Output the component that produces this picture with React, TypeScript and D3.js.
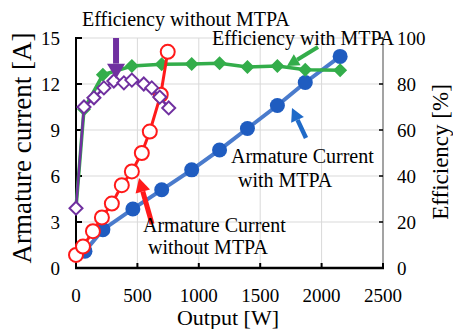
import React, { useRef, useEffect } from 'react';
import * as d3 from 'd3';

// Axis ticks
const outputTicks = [0, 500, 1000, 1500, 2000, 2500];
const currentTicks = [0, 3, 6, 9, 12, 15];
const effTicks = [0, 20, 40, 60, 80, 100];

// Armature current with MTPA [A]
const mtpaOutput = [73, 219, 463, 698, 942, 1169, 1396, 1640, 1867, 2151];
const mtpaCurrent = [1.1, 2.5, 3.85, 5.1, 6.4, 7.7, 9.1, 10.6, 12.1, 13.8];

// Efficiency with MTPA [%]
const mtpaEffOutput = [0, 65, 219, 455, 698, 942, 1169, 1396, 1640, 1867, 2151];
const mtpaEfficiency = [26, 69, 84, 87.8, 88.6, 88.7, 89, 87.4, 87.8, 86.2, 86];

// Armature current without MTPA [A]
const noMtpaOutput = [0, 57, 138, 211, 292, 373, 455, 536, 601, 690, 747];
const noMtpaCurrent = [0.85, 1.4, 2.4, 3.3, 4.2, 5.4, 6.3, 7.5, 8.9, 11.3, 14.1];

// Efficiency without MTPA [%]
const noMtpaEffOutput = [0, 65, 146, 227, 308, 390, 455, 552, 617, 682, 755];
const noMtpaEfficiency = [26, 70, 74, 78.3, 81.3, 80.5, 81.7, 80, 78.3, 74.3, 69.6];

const COLORS = {
  blueLine: '#4a7bcc',
  blueMark: '#1f5cc0',
  red: '#ff1a1a',
  green: '#33ad4a',
  purple: '#7030a0',
  grid: '#d9d9d9',
};

const FONT = 'Liberation Serif, Times New Roman, DejaVu Serif, serif';

export default function App() {
  const svgRef = useRef<SVGSVGElement>(null);
  const width = 453;
  const height = 329;

  useEffect(() => {
    const svg = d3.select(svgRef.current);
    svg.selectAll('*').remove();

    const left = 76, right = 383, top = 38, bottom = 268;

    const x = d3.scaleLinear().domain([0, 2500]).range([left, right]);
    const yA = d3.scaleLinear().domain([0, 15]).range([bottom, top]);
    const yE = d3.scaleLinear().domain([0, 100]).range([bottom, top]);

    const g = svg.append('g').attr('font-family', FONT);

    // gridlines
    g.selectAll('.vgrid')
      .data(outputTicks.slice(1, -1))
      .enter().append('line')
      .attr('x1', d => x(d)).attr('x2', d => x(d))
      .attr('y1', top).attr('y2', bottom)
      .attr('stroke', COLORS.grid).attr('stroke-width', 1);
    g.selectAll('.hgrid')
      .data(currentTicks.slice(1))
      .enter().append('line')
      .attr('x1', left).attr('x2', right)
      .attr('y1', d => yA(d)).attr('y2', d => yA(d))
      .attr('stroke', COLORS.grid).attr('stroke-width', 1);

    // axes lines
    g.append('line').attr('x1', left).attr('x2', left).attr('y1', top - 1).attr('y2', bottom + 1)
      .attr('stroke', '#000').attr('stroke-width', 2);
    g.append('line').attr('x1', right).attr('x2', right).attr('y1', top).attr('y2', bottom)
      .attr('stroke', '#666').attr('stroke-width', 1.2);
    g.append('line').attr('x1', left - 1).attr('x2', right + 1).attr('y1', bottom).attr('y2', bottom)
      .attr('stroke', '#000').attr('stroke-width', 2.5);

    // inward ticks
    g.selectAll('.ltick').data(currentTicks.slice(1)).enter().append('line')
      .attr('x1', left).attr('x2', left + 6).attr('y1', d => yA(d)).attr('y2', d => yA(d))
      .attr('stroke', '#000').attr('stroke-width', 2);
    g.selectAll('.rtick').data(effTicks.slice(1)).enter().append('line')
      .attr('x1', right).attr('x2', right - 4).attr('y1', d => yE(d)).attr('y2', d => yE(d))
      .attr('stroke', '#000').attr('stroke-width', 1.5);
    g.selectAll('.btick').data(outputTicks.slice(1)).enter().append('line')
      .attr('x1', d => x(d)).attr('x2', d => x(d)).attr('y1', bottom).attr('y2', bottom - 5)
      .attr('stroke', '#000').attr('stroke-width', 2);

    // tick labels
    const tickFont = 19;
    g.selectAll('.llab').data(currentTicks).enter().append('text')
      .attr('x', left - 16).attr('y', d => yA(d)).attr('dy', '0.35em')
      .attr('text-anchor', 'end').attr('font-size', tickFont)
      .text(d => d);
    g.selectAll('.rlab').data(effTicks).enter().append('text')
      .attr('x', right + 14).attr('y', d => yE(d)).attr('dy', '0.35em')
      .attr('text-anchor', 'start').attr('font-size', tickFont)
      .text(d => d);
    g.selectAll('.blab').data(outputTicks).enter().append('text')
      .attr('x', d => x(d)).attr('y', bottom + 34)
      .attr('text-anchor', 'middle').attr('font-size', tickFont)
      .text(d => d);

    // axis titles
    g.append('text')
      .attr('x', 228).attr('y', 325).attr('text-anchor', 'middle')
      .attr('font-size', 22).text('Output [W]');
    g.append('text')
      .attr('transform', 'translate(31,148) rotate(-90)').attr('text-anchor', 'middle')
      .attr('font-size', 27).text('Armature current [A]');
    g.append('text')
      .attr('transform', 'translate(448,152) rotate(-90)').attr('text-anchor', 'middle')
      .attr('font-size', 23).text('Efficiency [%]');

    const line = (xs: number[], ys: number[], yScale: d3.ScaleLinear<number, number>) =>
      d3.line<number>().x((_, i) => x(xs[i])).y(d => yScale(d))(ys);

    const diamond = (cx: number, cy: number, r: number) =>
      `M${cx},${cy - r}L${cx + r},${cy}L${cx},${cy + r}L${cx - r},${cy}Z`;

    // blue: current with MTPA
    g.append('path').attr('d', line(mtpaOutput, mtpaCurrent, yA))
      .attr('fill', 'none').attr('stroke', COLORS.blueLine).attr('stroke-width', 4);
    g.selectAll('.blueDot').data(mtpaCurrent).enter().append('circle')
      .attr('cx', (_, i) => x(mtpaOutput[i])).attr('cy', d => yA(d)).attr('r', 7.5)
      .attr('fill', COLORS.blueMark);

    // green: efficiency with MTPA
    g.append('path').attr('d', line(mtpaEffOutput, mtpaEfficiency, yE))
      .attr('fill', 'none').attr('stroke', COLORS.green).attr('stroke-width', 3.5);
    g.selectAll('.greenDia').data(mtpaEfficiency).enter().append('path')
      .attr('d', (d, i) => diamond(x(mtpaEffOutput[i]), yE(d), 7))
      .attr('fill', COLORS.green);

    // red: current without MTPA
    g.append('path').attr('d', line(noMtpaOutput, noMtpaCurrent, yA))
      .attr('fill', 'none').attr('stroke', COLORS.red).attr('stroke-width', 3);
    g.selectAll('.redDot').data(noMtpaCurrent).enter().append('circle')
      .attr('cx', (_, i) => x(noMtpaOutput[i])).attr('cy', d => yA(d)).attr('r', 7)
      .attr('fill', '#fff').attr('stroke', COLORS.red).attr('stroke-width', 2);

    // purple: efficiency without MTPA
    g.append('path').attr('d', line(noMtpaEffOutput, noMtpaEfficiency, yE))
      .attr('fill', 'none').attr('stroke', COLORS.purple).attr('stroke-width', 2.5);
    g.selectAll('.purpleDia').data(noMtpaEfficiency).enter().append('path')
      .attr('d', (d, i) => diamond(x(noMtpaEffOutput[i]), yE(d), 6.5))
      .attr('fill', '#fff').attr('stroke', COLORS.purple).attr('stroke-width', 2);

    // annotation arrows (data units: W, A)
    const arrow = (w1: number, a1: number, w2: number, a2: number, color: string,
      shaft = 5, headL = 15, headW = 17) => {
      const x1 = x(w1), y1 = yA(a1), x2 = x(w2), y2 = yA(a2);
      const len = Math.hypot(x2 - x1, y2 - y1);
      const ux = (x2 - x1) / len, uy = (y2 - y1) / len;
      const bx = x2 - ux * headL, by = y2 - uy * headL;
      g.append('line').attr('x1', x1).attr('y1', y1).attr('x2', bx).attr('y2', by)
        .attr('stroke', color).attr('stroke-width', shaft);
      g.append('path')
        .attr('d', `M${x2},${y2}L${bx - uy * headW / 2},${by + ux * headW / 2}L${bx + uy * headW / 2},${by - ux * headW / 2}Z`)
        .attr('fill', color);
    };
    arrow(326, 15, 326, 12.35, COLORS.purple, 6, 15, 18);
    arrow(1971, 14.41, 1718, 13.17, COLORS.green, 4, 12, 13);
    arrow(1873, 8.48, 1759, 10.43, '#1f6ac8', 4.5, 13, 14);
    arrow(619, 2.87, 513, 5.87, COLORS.red, 5, 14, 15);

    // annotation texts
    const label = (tx: number, ty: number, s: string) =>
      g.append('text').attr('x', tx).attr('y', ty)
        .attr('font-size', 20).text(s);
    label(82, 26, 'Efficiency without MTPA');
    label(212, 45, 'Efficiency with MTPA');
    label(231, 163, 'Armature Current');
    label(238, 187, 'with MTPA');
    label(143, 232, 'Armature Current');
    label(148, 254, 'without MTPA');
  }, []);

  return (
    <div style={{ position: 'absolute', left: 0, top: 0 }}>
      <svg ref={svgRef} width={width} height={height} style={{ display: 'block', background: '#fff' }} />
    </div>
  );
}
